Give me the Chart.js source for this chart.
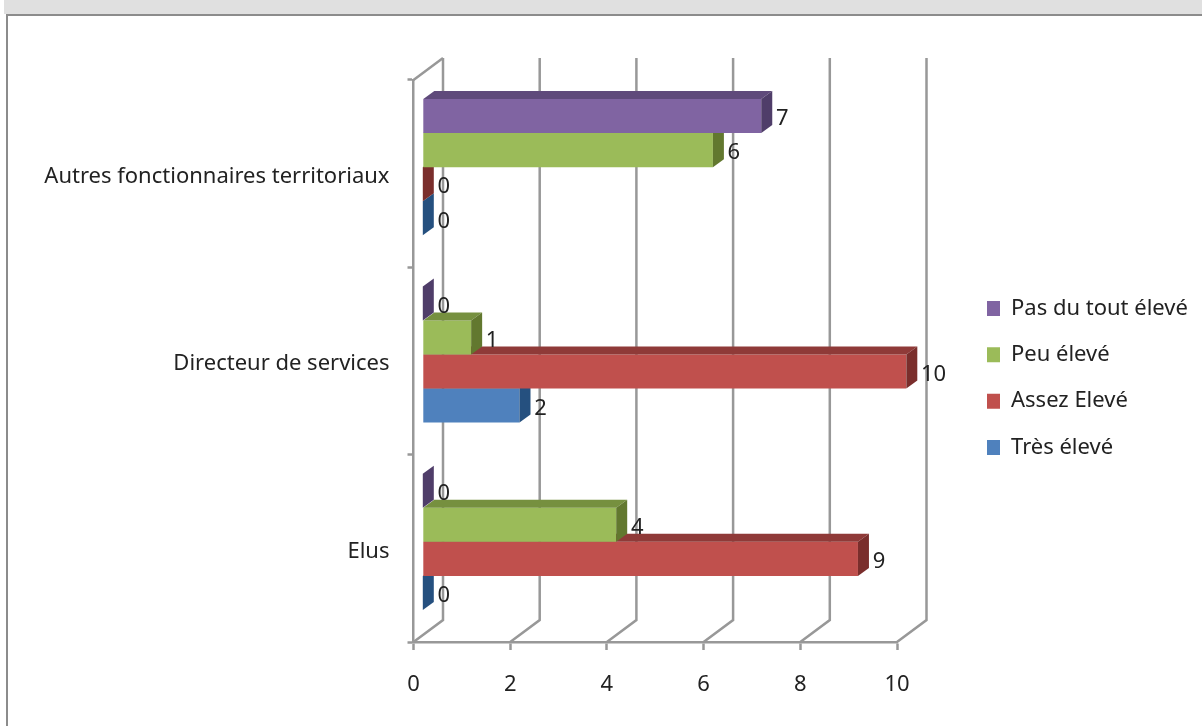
<!DOCTYPE html>
<html lang="fr">
<head>
<meta charset="utf-8">
<title>Chart</title>
<script src="https://cdn.jsdelivr.net/npm/chart.js@4"></script>
<style>
    html, body { margin: 0; padding: 0; background: #fff; }
    #band { position: absolute; left: 4px; top: 0; width: 1198px; height: 14px; background: #e0e0e0; }
    #frameTop { position: absolute; left: 6px; top: 14px; width: 1196px; height: 2px; background: #8c8c8c; }
    #frameLeft { position: absolute; left: 6px; top: 14px; width: 2px; height: 712px; background: #8c8c8c; }
    #chart { position: absolute; left: 0; top: 0; }
</style>
</head>
<body>
<div id="band"></div>
<div id="frameTop"></div>
<div id="frameLeft"></div>
<canvas id="chart" width="1202" height="726"></canvas>
<script>
const categories = ['Autres fonctionnaires territoriaux', 'Directeur de services', 'Elus'];
const pasDuTout = [7, 0, 0];
const peuEleve = [6, 1, 4];
const assezEleve = [0, 10, 9];
const tresEleve = [0, 2, 0];
const xTicks = [0, 2, 4, 6, 8, 10];

const FONT = '"Noto Sans", sans-serif';
const AXIS_COLOR = '#989898';
const AXIS_WIDTH = 2.5;
const TEXT_COLOR = '#222';

// top and side colours of the fake 3D bars, by dataset
const topColors = ['#5f4a7b', '#76903f', '#8f3a38', '#3a6390'];
const sideColors = ['#4f3d69', '#62782f', '#7a2e2c', '#25507f'];

const BAR_DEPTH = { x: 11, y: 8 };
const BAR_SHIFT = { x: 9.3, y: -6.5 };
const WALL_DEPTH = { x: 29.5, y: 22 };

const fake3d = {
    id: 'fake3d',
    beforeLayout(chart) {
        // reserve the whole right side for the legend
        const lg = chart.legend;
        if (!lg.origFit) {
            lg.origFit = lg.fit;
            lg.fit = function () {
                this.origFit();
                this.width = 305;
            };
        }
    },
    afterLayout(chart) {
        const lg = chart.legend;
        lg.left = 987 - lg.options.labels.padding;
        lg.top -= 25;
        lg.bottom -= 25;
    },
    beforeDatasetsDraw(chart) {
        const ctx = chart.ctx;
        const xs = chart.scales.x;
        const bottom = chart.chartArea.bottom;
        const top = chart.chartArea.top;

        ctx.save();
        ctx.strokeStyle = AXIS_COLOR;
        ctx.lineWidth = AXIS_WIDTH;
        xTicks.forEach(v => {
            const px = xs.getPixelForValue(v);
            ctx.beginPath();
            ctx.moveTo(px, bottom);
            ctx.lineTo(px + WALL_DEPTH.x, bottom - WALL_DEPTH.y);
            ctx.lineTo(px + WALL_DEPTH.x, top - WALL_DEPTH.y);
            ctx.stroke();
        });
        // top edge of the left wall
        const x0 = xs.getPixelForValue(0);
        ctx.beginPath();
        ctx.moveTo(x0, top);
        ctx.lineTo(x0 + WALL_DEPTH.x, top - WALL_DEPTH.y);
        ctx.stroke();
        ctx.restore();

        ctx.save();
        ctx.translate(BAR_SHIFT.x, BAR_SHIFT.y);
    },
    afterDatasetDraw(chart, args) {
        const ctx = chart.ctx;
        const i = args.index;
        args.meta.data.forEach(bar => {
            const t = bar.y - bar.height / 2;
            const b = bar.y + bar.height / 2;
            ctx.fillStyle = topColors[i];
            ctx.beginPath();
            ctx.moveTo(bar.base, t);
            ctx.lineTo(bar.base + BAR_DEPTH.x, t - BAR_DEPTH.y);
            ctx.lineTo(bar.x + BAR_DEPTH.x, t - BAR_DEPTH.y);
            ctx.lineTo(bar.x, t);
            ctx.closePath();
            ctx.fill();
            ctx.fillStyle = sideColors[i];
            ctx.beginPath();
            ctx.moveTo(bar.x, t);
            ctx.lineTo(bar.x + BAR_DEPTH.x, t - BAR_DEPTH.y);
            ctx.lineTo(bar.x + BAR_DEPTH.x, b - BAR_DEPTH.y);
            ctx.lineTo(bar.x, b);
            ctx.closePath();
            ctx.fill();
        });
    },
    afterDatasetsDraw(chart) {
        const ctx = chart.ctx;
        ctx.font = '22px ' + FONT;
        ctx.fillStyle = TEXT_COLOR;
        ctx.textAlign = 'left';
        ctx.textBaseline = 'middle';
        chart.data.datasets.forEach((ds, i) => {
            chart.getDatasetMeta(i).data.forEach((bar, j) => {
                ctx.fillText(ds.data[j], bar.x + BAR_DEPTH.x + 3.7, bar.y + 3);
            });
        });
        ctx.restore();
    }
};

new Chart(document.getElementById('chart'), {
    type: 'bar',
    data: {
        labels: categories,
        datasets: [
            { label: 'Pas du tout élevé', data: pasDuTout, backgroundColor: '#8064a2' },
            { label: 'Peu élevé', data: peuEleve, backgroundColor: '#9bbb59' },
            { label: 'Assez Elevé', data: assezEleve, backgroundColor: '#c0504d' },
            { label: 'Très élevé', data: tresEleve, backgroundColor: '#4f81bd' }
        ]
    },
    plugins: [fake3d],
    options: {
        indexAxis: 'y',
        responsive: false,
        animation: false,
        categoryPercentage: 0.727,
        barPercentage: 1,
        layout: { padding: { top: 80, left: 0, right: 0, bottom: 0 } },
        plugins: {
            tooltip: { enabled: false },
            legend: {
                position: 'right',
                labels: {
                    boxWidth: 13,
                    boxHeight: 15,
                    padding: 24.3,
                    color: TEXT_COLOR,
                    font: { family: FONT, size: 22 }
                }
            }
        },
        scales: {
            x: {
                min: 0,
                max: 10,
                afterBuildTicks: axis => { axis.ticks = xTicks.map(v => ({ value: v })); },
                afterFit: axis => { axis.height = 84; },
                border: { color: AXIS_COLOR, width: AXIS_WIDTH },
                grid: { drawOnChartArea: false, tickLength: 8, tickColor: AXIS_COLOR, tickWidth: AXIS_WIDTH },
                ticks: { color: TEXT_COLOR, padding: 22, maxRotation: 0, font: { family: FONT, size: 22 } }
            },
            y: {
                afterFit: axis => { axis.width = 413.5; },
                border: { color: AXIS_COLOR, width: AXIS_WIDTH },
                grid: { drawOnChartArea: false, tickLength: 6, tickColor: AXIS_COLOR, tickWidth: AXIS_WIDTH },
                ticks: { color: TEXT_COLOR, padding: 18, labelOffset: 3, font: { family: FONT, size: 22 } }
            }
        }
    }
});
</script>
</body>
</html>
